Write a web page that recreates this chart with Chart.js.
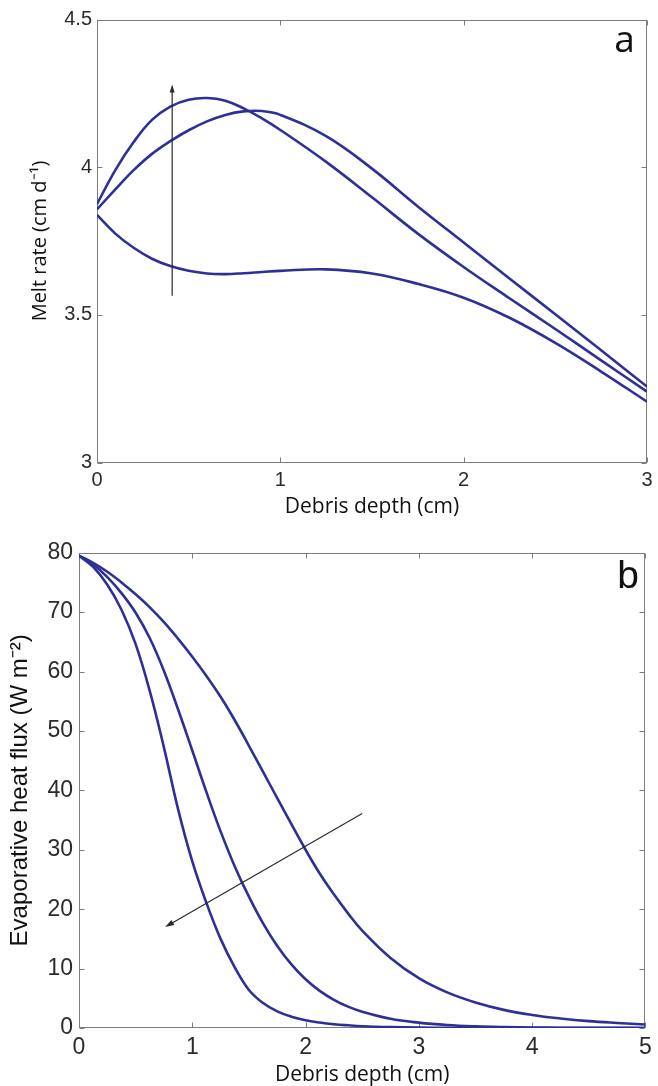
<!DOCTYPE html>
<html><head><meta charset="utf-8">
<script src="https://cdn.jsdelivr.net/npm/chart.js@4/dist/chart.umd.min.js"></script>
<style>
html,body{margin:0;padding:0;background:#fff;}
#wrap{position:relative;width:658px;height:1086px;overflow:hidden;}
canvas{position:absolute;left:0;}
#ca{top:0;} #cb{top:530px;}
</style></head><body>
<div id="wrap"><canvas id="ca" width="658" height="530"></canvas><canvas id="cb" width="658" height="556"></canvas></div>
<script>
// ---- Panel a data: melt rate (cm d^-1) vs debris depth (cm)
const depthA = [0,0.1,0.2,0.3,0.4,0.5,0.6,0.7,0.8,0.9,1.0,1.25,1.5,1.75,2.0,2.25,2.5,2.75,3.0];
const meltA1 = [3.875,3.99,4.085,4.16,4.205,4.228,4.234,4.225,4.199,4.165,4.126,4.018,3.898,3.775,3.662,3.556,3.452,3.346,3.24];
const meltA2 = [3.857,3.925,3.99,4.045,4.088,4.125,4.155,4.177,4.189,4.19,4.177,4.105,3.995,3.867,3.745,3.623,3.502,3.38,3.257];
const meltA3 = [3.838,3.775,3.727,3.69,3.665,3.649,3.64,3.638,3.641,3.645,3.649,3.654,3.64,3.605,3.558,3.49,3.405,3.308,3.206];
const xTicksA = [0,1,2,3];
const yTicksA = [3,3.5,4,4.5];
const arrowA = {from:[0.41,3.565], to:[0.41,4.28]};

// ---- Panel b data: evaporative heat flux (W m^-2) vs debris depth (cm)
const depthB = [0,0.125,0.25,0.375,0.5,0.625,0.75,0.875,1.0,1.125,1.25,1.375,1.5,1.625,1.75,1.875,2.0,2.125,2.25,2.375,2.5,2.75,3.0,3.25,3.5,3.75,4.0,4.25,4.5,4.75,5.0];
const fluxB1 = [79.5,77.6,74.6,70.4,64.6,56.7,47.2,36.8,28.05,21.05,15.0,10.2,6.4,4.2,2.8,1.9,1.3,0.92,0.64,0.45,0.3,0.15,0.07,0.035,0.02,0.01,0.005,0,0,0,0];
const fluxB2 = [79.5,78.0,75.9,73.2,69.9,65.6,60.1,53.6,46.7,39.7,33.1,27.2,22.1,17.6,13.8,10.7,8.2,6.25,4.75,3.6,2.75,1.55,0.9,0.5,0.28,0.16,0.09,0.05,0.03,0.02,0.01];
const fluxB3 = [79.5,78.3,76.8,75.0,73.0,70.8,68.3,65.5,62.5,59.25,55.75,51.8,47.5,43.1,38.7,34.3,30.0,26.0,22.5,19.3,16.4,11.8,8.4,6.0,4.3,3.05,2.2,1.6,1.15,0.85,0.6];
const xTicksB = [0,1,2,3,4,5];
const yTicksB = [0,10,20,30,40,50,60,70,80];
const arrowB = {from:[2.5,36.1], to:[0.76,17.0]};

const LINE = '#2d3096';
const pts = (xs, ys) => xs.map((x,i)=>({x:x, y:ys[i]}));
const ds = (xs, ys) => ({data: pts(xs, ys), borderColor: LINE, borderWidth: 2.6, pointRadius: 0, fill: false, tension: 0.4});

const boxPlugin = {
  id: 'box',
  beforeDatasetsDraw(chart, args, o) {
    const {ctx, chartArea:{left,top,right,bottom}, scales:{x,y}} = chart;
    ctx.save();
    ctx.strokeStyle = '#7d7d7d'; ctx.lineWidth = 1;
    const L = Math.round(left)+0.5, T = Math.round(top)+0.5, R = Math.round(right)-0.5, B = Math.round(bottom)-0.5;
    ctx.strokeRect(L, T, R-L, B-T);
    const tl = 5;
    ctx.beginPath();
    x.ticks.forEach(t => { const p = Math.round(x.getPixelForValue(t.value))+0.5;
      ctx.moveTo(p,B); ctx.lineTo(p,B-tl); ctx.moveTo(p,T); ctx.lineTo(p,T+tl); });
    y.ticks.forEach(t => { const p = Math.round(y.getPixelForValue(t.value))+0.5;
      ctx.moveTo(L,p); ctx.lineTo(L+tl,p); ctx.moveTo(R,p); ctx.lineTo(R-tl,p); });
    ctx.stroke();
    ctx.restore();
  },
  afterDatasetsDraw(chart, args, o) {
    const {ctx, scales:{x,y}} = chart;
    ctx.save();
    const x0 = x.getPixelForValue(o.arrow.from[0]), y0 = y.getPixelForValue(o.arrow.from[1]);
    const x1 = x.getPixelForValue(o.arrow.to[0]), y1 = y.getPixelForValue(o.arrow.to[1]);
    const ang = Math.atan2(y1-y0, x1-x0);
    const hl = o.headLen, hw = o.headW;
    ctx.strokeStyle = '#2a2a2a'; ctx.fillStyle = '#2a2a2a'; ctx.lineWidth = 1.2;
    ctx.beginPath(); ctx.moveTo(x0,y0);
    ctx.lineTo(x1 - Math.cos(ang)*hl*0.8, y1 - Math.sin(ang)*hl*0.8); ctx.stroke();
    ctx.beginPath();
    ctx.moveTo(x1,y1);
    ctx.lineTo(x1 - Math.cos(ang)*hl - Math.sin(ang)*hw/2, y1 - Math.sin(ang)*hl + Math.cos(ang)*hw/2);
    ctx.lineTo(x1 - Math.cos(ang)*hl + Math.sin(ang)*hw/2, y1 - Math.sin(ang)*hl - Math.cos(ang)*hw/2);
    ctx.closePath(); ctx.fill();
    ctx.fillStyle = '#111';
    ctx.font = o.letterFont; ctx.textAlign = 'center'; ctx.textBaseline = 'alphabetic';
    ctx.fillText(o.letter, o.letterX, o.letterY);
    ctx.restore();
  }
};

Chart.defaults.animation = false;
Chart.defaults.color = '#2b2b2b';

function makeChart(id, cfg) {
  return new Chart(document.getElementById(id), {
    type: 'line',
    data: {datasets: cfg.datasets},
    plugins: [boxPlugin],
    options: {
      responsive: false, animation: false,
      layout: {padding: cfg.padding},
      plugins: {legend: {display:false}, tooltip: {enabled:false}, box: cfg.box},
      scales: {
        x: {type:'linear', min: cfg.xMin, max: cfg.xMax,
          grid: {display:false, drawTicks:false}, border: {display:false},
          afterBuildTicks: s => { s.ticks = cfg.xTicks.map(v=>({value:v})); },
          afterFit: s => { s.height = cfg.xH; },
          ticks: {font: {family:'Liberation Sans', size: cfg.tickSize}, color:'#2b2b2b', padding: cfg.xPad, maxRotation:0, autoSkip:false, callback: v => String(v)},
          title: {display:true, text:'Debris depth (cm)', color:'#111', font: cfg.xTitleFont, padding: cfg.xTitlePad}
        },
        y: {type:'linear', min: cfg.yMin, max: cfg.yMax,
          grid: {display:false, drawTicks:false}, border: {display:false},
          afterBuildTicks: s => { s.ticks = cfg.yTicks.map(v=>({value:v})); },
          afterFit: s => { s.width = cfg.yW; },
          ticks: {font: {family:'Liberation Sans', size: cfg.tickSize}, color:'#2b2b2b', padding: cfg.yPad, autoSkip:false, callback: v => String(v)},
          title: {display:true, text: cfg.yTitle, color:'#111', font: cfg.yTitleFont, padding: cfg.yTitlePad}
        }
      }
    }
  });
}

makeChart('ca', {
  datasets: [ds(depthA, meltA1), ds(depthA, meltA2), ds(depthA, meltA3)],
  padding: {top: 19.5, right: 11, left: 0, bottom: 0},
  xMin: 0, xMax: 3, yMin: 3, yMax: 4.5, xTicks: xTicksA, yTicks: yTicksA,
  xH: 67.5, yW: 97, tickSize: 20, xPad: 5.5, yPad: 5,
  xTitleFont: {family:'Open Sans', size: 21, lineHeight: 1.2}, xTitlePad: {top:0, bottom:10.4},
  yTitle: 'Melt rate (cm d\u207B\u00B9)', yTitleFont: {family:'Open Sans', size: 20, lineHeight: 1.2}, yTitlePad: {top:28, bottom:0},
  box: {arrow: arrowA, headLen: 8, headW: 5, letter: 'a', letterFont: '37px "Open Sans"', letterX: 624.5, letterY: 51.7}
});

makeChart('cb', {
  datasets: [ds(depthB, fluxB1), ds(depthB, fluxB2), ds(depthB, fluxB3)],
  padding: {top: 22.7, right: 11, left: 0, bottom: 0},
  xMin: 0, xMax: 5, yMin: 0, yMax: 80, xTicks: xTicksB, yTicks: yTicksB,
  xH: 58, yW: 79, tickSize: 23, xPad: 6.2, yPad: 6,
  xTitleFont: {family:'Open Sans', size: 21, lineHeight: 1}, xTitlePad: {top:0, bottom:0},
  yTitle: 'Evaporative heat flux (W m\u207B\u00B2)', yTitleFont: {family:'Liberation Sans', size: 24, lineHeight: 1.2}, yTitlePad: {top:5.6, bottom:0},
  box: {arrow: arrowB, headLen: 9, headW: 6, letter: 'b', letterFont: '39px "Liberation Sans"', letterX: 628, letterY: 588.3 - 530}
});
</script>
</body></html>
